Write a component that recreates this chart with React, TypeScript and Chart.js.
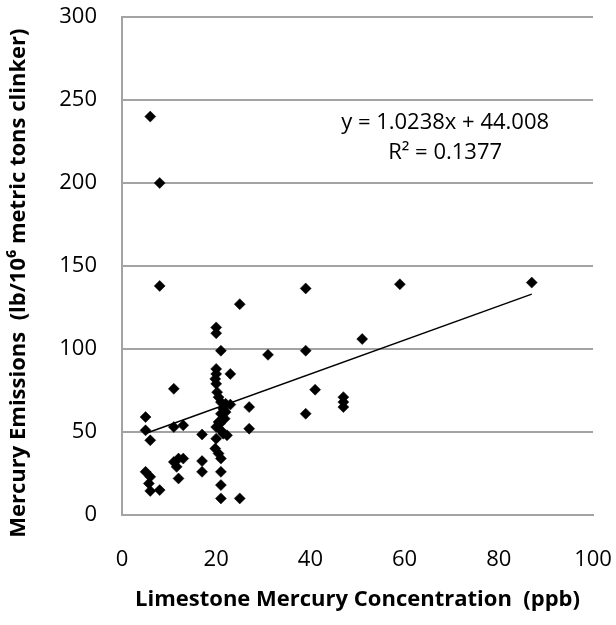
import React, { useEffect, useRef } from 'react';
import { Chart, registerables } from 'chart.js';

Chart.register(...registerables);

// Limestone mercury concentration (ppb)
const limestoneHg = [
  6, 8, 8, 25, 39, 59, 87, 51, 31, 39,
  41, 39, 47, 47, 47, 27, 27, 25, 23, 11,
  5, 5, 6, 5, 6, 5.7, 6, 8, 11, 13,
  11, 12, 13, 11.6, 12, 17, 17, 17,
  20, 20, 21, 20, 20, 19.8, 20, 20.2, 20.5, 21,
  22, 23, 21.5, 21, 21.8, 20.5, 20, 21, 22.3, 20,
  19.8, 20.5, 21, 21, 21, 21, 22, 20.8, 21.5,
];
// Mercury emissions (lb/10^6 metric tons clinker)
const hgEmissions = [
  240, 200, 138, 127, 136.5, 139, 140, 106, 96.5, 99,
  75.5, 61, 71, 68, 65, 65, 52, 10, 85, 76,
  59, 51, 45, 26, 23, 19, 14.5, 15, 53, 54,
  32, 34, 34, 29, 22, 48.5, 32.5, 26,
  113, 109.5, 99, 88, 85, 82, 79, 74, 71, 68,
  67, 66.5, 64, 61, 58, 56, 53, 51, 48, 46,
  40, 37, 34, 26, 18, 10, 62, 55, 49,
];

const trendSlope = 1.0238;
const trendIntercept = 44.008;
const equationLines = ['y = 1.0238x + 44.008', 'R\u00B2 = 0.1377'];
// anchor of the equation label, in data units
const equationAnchorX = 68.6;
const equationAnchorY = [236.5, 218.5];

const xAxisRange = [0, 100, 20];
const yAxisRange = [0, 300, 50];
const xAxisTitle = 'Limestone Mercury Concentration  (ppb)';
const yAxisTitle = 'Mercury Emissions  (lb/10\u2076 metric tons clinker)      ';

const FONT = '"Open Sans", Lato, "DejaVu Sans", sans-serif';
const GRID = '#a3a3a3';

export default function App() {
  const ref = useRef<HTMLCanvasElement | null>(null);

  useEffect(() => {
    if (!ref.current) return;
    const points = limestoneHg.map((x, i) => ({ x, y: hgEmissions[i] }));
    const xMin = Math.min(...limestoneHg);
    const xMax = Math.max(...limestoneHg);
    const trend = [
      { x: xMin, y: trendSlope * xMin + trendIntercept },
      { x: xMax, y: trendSlope * xMax + trendIntercept },
    ];

    const equationPlugin = {
      id: 'equationLabel',
      afterDatasetsDraw(chart: any) {
        const { ctx, scales } = chart;
        ctx.save();
        ctx.font = `22px ${FONT}`;
        ctx.fillStyle = '#000';
        ctx.textAlign = 'center';
        ctx.textBaseline = 'middle';
        const cx = scales.x.getPixelForValue(equationAnchorX);
        equationLines.forEach((t, i) => {
          ctx.fillText(t, cx, scales.y.getPixelForValue(equationAnchorY[i]));
        });
        ctx.restore();
      },
    };

    const chart = new Chart(ref.current, {
      type: 'scatter',
      data: {
        datasets: [
          {
            type: 'scatter',
            data: points,
            pointStyle: 'rectRot',
            pointRadius: 5.5,
            pointBackgroundColor: '#000',
            pointBorderColor: '#000',
            pointBorderWidth: 0.5,
            order: 0,
          } as any,
          {
            type: 'line',
            data: trend,
            borderColor: '#000',
            borderWidth: 1.5,
            pointRadius: 0,
            fill: false,
            order: 1,
          } as any,
        ],
      },
      options: {
        animation: false,
        responsive: true,
        maintainAspectRatio: false,
        layout: { padding: { top: 17, right: 23, left: 0, bottom: 0 } },
        plugins: {
          legend: { display: false },
          tooltip: { enabled: false },
        },
        scales: {
          x: {
            type: 'linear',
            min: xAxisRange[0],
            max: xAxisRange[1],
            ticks: {
              stepSize: xAxisRange[2],
              color: '#000',
              font: { family: FONT, size: 22 },
              padding: 32,
            },
            grid: { display: false, drawTicks: false },
            border: { display: true, color: GRID, width: 2 },
            title: {
              display: true,
              text: xAxisTitle,
              color: '#000',
              font: { family: FONT, size: 22, weight: 'bold' },
              padding: { top: 0, bottom: 12 },
            },
            afterFit: (s: any) => {
              s.height = 110;
              s.paddingLeft = 0;
              s.paddingRight = 0;
            },
          },
          y: {
            type: 'linear',
            min: yAxisRange[0],
            max: yAxisRange[1],
            ticks: {
              stepSize: yAxisRange[2],
              color: '#000',
              font: { family: FONT, size: 22 },
              padding: 25,
            },
            grid: { color: GRID, lineWidth: 2, drawTicks: false },
            border: { display: true, color: GRID, width: 2 },
            title: {
              display: true,
              text: yAxisTitle,
              color: '#000',
              font: { family: FONT, size: 22, weight: 'bold' },
              padding: { top: 6, bottom: 0 },
            },
            afterFit: (s: any) => {
              s.width = 122;
              s.paddingTop = 0;
              s.paddingBottom = 0;
            },
          },
        },
      } as any,
      plugins: [equationPlugin],
    });
    return () => chart.destroy();
  }, []);

  return (
    <div style={{ position: 'absolute', left: 0, top: 0, width: 616, height: 625 }}>
      <canvas ref={ref} />
    </div>
  );
}
